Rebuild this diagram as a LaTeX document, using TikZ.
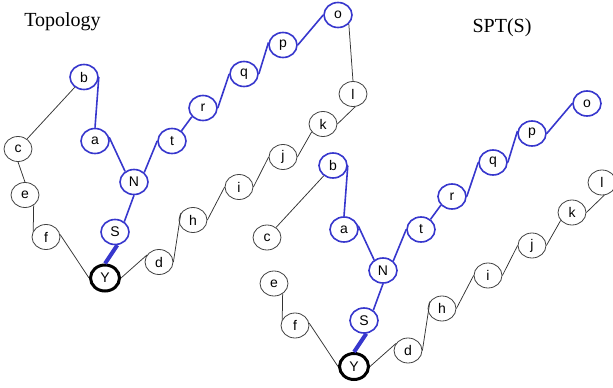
\documentclass[tikz,border=0pt]{standalone}
\usepackage{fontspec}
\setmainfont{Liberation Serif}
\newfontfamily\nodefont{Liberation Sans}
\usetikzlibrary{shapes.geometric}
\definecolor{eblue}{RGB}{55,55,205}
\newcommand\mygraphnodes[1]{%
  \node[bvtx] (#1b) at (84,77) {b};
  \node[bvtx] (#1a) at (95,141) {a};
  \node[bvtx] (#1N) at (134,182) {N};
  \node[bvtx] (#1t) at (172,141) {t};
  \node[bvtx] (#1r) at (203,108) {r};
  \node[bvtx] (#1q) at (244,74) {q};
  \node[bvtx] (#1p) at (283,45) {p};
  \node[bvtx] (#1o) at (338,15) {o};
  \node[bvtx] (#1S) at (115,232) {S};
  \node[root] (#1Y) at (105,278) {Y};
  \node[vtx] (#1c) at (18,149) {c};
  \node[vtx] (#1e) at (25,195) {e};
  \node[vtx] (#1f) at (46,237) {f};
  \node[vtx] (#1d) at (159,262) {d};
  \node[vtx] (#1h) at (193,220) {h};
  \node[vtx] (#1i) at (239,187) {i};
  \node[vtx] (#1j) at (283,157) {j};
  \node[vtx] (#1k) at (323,124) {k};
  \node[vtx] (#1l) at (353,94) {l};
}
\newcommand\mygraphedges[1]{%
  \draw[tedge] (#1c.48) -- (#1b.228);
  \draw[tedge] (#1e.-50) -- (#1f.155);
  \draw[tedge] (#1f.10) -- (#1Y.180);
  \draw[tedge] (#1Y.0) -- (#1d.150);
  \draw[tedge] (#1d.0) -- (#1h.150);
  \draw[tedge] (#1h.0) -- (#1i.180);
  \draw[tedge] (#1i.0) -- (#1j.180);
  \draw[tedge] (#1j.0) -- (#1k.215);
  \draw[tedge] (#1k.0) -- (#1l.280);
  \draw[bedge] (#1b.0) -- (#1a.north);
  \draw[bedge] (#1a.15) -- (#1N.130);
  \draw[bedge] (#1N.43) -- (#1t.180);
  \draw[bedge] (#1t.47) -- (#1r.218);
  \draw[bedge] (#1r.0) -- (#1q.180);
  \draw[bedge] (#1q.0) -- (#1p.170);
  \draw[bedge] (#1p.0) -- (#1o.180);
  \draw[bedge] (#1N.south) -- (#1S.48);
  \draw[sedge] (#1S.-80) -- (#1Y.north);
}
\begin{document}
\begin{tikzpicture}[x=1pt,y=-1pt,
  vtx/.style={ellipse, draw=black!75, line width=0.8pt, fill=white,
    minimum width=28pt, minimum height=25pt, inner sep=0pt,
    font=\nodefont\fontsize{14}{14}\selectfont},
  bvtx/.style={vtx, draw=eblue, line width=1.6pt},
  root/.style={vtx, draw=black, line width=3pt, minimum width=29pt, minimum height=26pt},
  tedge/.style={draw=black!80, line width=0.75pt},
  bedge/.style={draw=eblue, line width=1.6pt},
  sedge/.style={draw=eblue, line width=4pt},
  title/.style={anchor=base, inner sep=0pt, font=\fontsize{20}{20}\selectfont}]
\useasboundingbox (0,0) rectangle (613,388);
\node[title] (t1) at (62.5,26.5) {Topology};
\node[title] (t2) at (502,32.3) {SPT(S)};
% left graph: topology
\mygraphnodes{L}
\mygraphedges{L}
\draw[tedge] (Lc.south) -- (Le.north);
\draw[tedge] (Ll.north) -- (Lo.-40);
% right graph: SPT(S)
\begin{scope}[shift={(249,88.5)}]
\mygraphnodes{R}
\mygraphedges{R}
\end{scope}
\end{tikzpicture}
\end{document}
